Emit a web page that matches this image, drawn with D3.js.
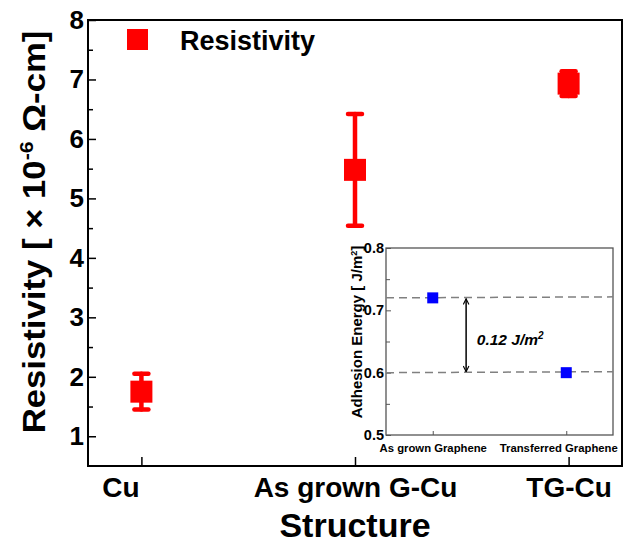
<!DOCTYPE html>
<html lang="en">
<head>
  <meta charset="UTF-8">
  <title>Resistivity vs Structure</title>
  <script src="https://d3js.org/d3.v7.min.js"></script>
  <style>
    body { margin: 0; background: #fff; }
    svg text { font-family: "Liberation Sans", Arial, sans-serif; font-weight: bold; }
  </style>
</head>
<body>
  <svg width="625" height="544"></svg>

  <script>
    // main chart data
    const categories = ["Cu", "As grown G-Cu", "TG-Cu"];
    const resistivity = [1.75, 5.48, 6.93];
    const resistivityErr = [0.30, 0.94, 0.21];
    const yTicks = [1, 2, 3, 4, 5, 6, 7, 8];

    // inset data
    const insetCategories = ["As grown Graphene", "Transferred Graphene"];
    const adhesion = [0.72, 0.60];
    const insetTicks = [0.5, 0.6, 0.7, 0.8];

    const svg = d3.select("svg");

    // ---------- main plot ----------
    const m = { left: 88, right: 622, top: 20, bottom: 466 };

    const x = d3.scaleLinear().domain([0.75, 3.25]).range([m.left, m.right]);
    const y = d3.scaleLinear().domain([0.5, 8]).range([m.bottom, m.top]);

    // minor y ticks
    svg.append("g")
      .attr("transform", "translate(" + m.left + ",0)")
      .call(d3.axisLeft(y).tickValues(y.ticks(15).filter(v => v % 1 !== 0 && v > 0.5)).tickSize(-5).tickFormat(""))
      .call(g => g.select(".domain").remove())
      .selectAll("line").attr("stroke", "#000").attr("stroke-width", 1.5);

    const yAxis = svg.append("g")
      .attr("transform", "translate(" + m.left + ",0)")
      .call(d3.axisLeft(y).tickValues(yTicks).tickSize(-8).tickPadding(4).tickFormat(d3.format("d")));
    yAxis.select(".domain").remove();
    yAxis.selectAll("line").attr("stroke", "#000").attr("stroke-width", 1.5);
    yAxis.selectAll("text").attr("font-size", 26).attr("fill", "#000");

    const xAxis = svg.append("g")
      .attr("transform", "translate(0," + m.bottom + ")")
      .call(d3.axisBottom(x).tickValues([1, 2, 3]).tickSize(-9).tickPadding(11)
        .tickFormat(i => categories[i - 1]));
    xAxis.select(".domain").remove();
    xAxis.selectAll("line").attr("stroke", "#000").attr("stroke-width", 1.5);
    xAxis.selectAll("text").attr("font-size", 28).attr("fill", "#000")
      .attr("dx", (d, i) => i === 0 ? -21 : 0);

    // frame
    svg.append("rect")
      .attr("x", m.left).attr("y", m.top)
      .attr("width", m.right - m.left).attr("height", m.bottom - m.top)
      .attr("fill", "none").attr("stroke", "#000").attr("stroke-width", 2);

    // error bars
    const pts = categories.map((c, i) => ({ c: c, i: i + 1, v: resistivity[i], e: resistivityErr[i] }));
    const eb = svg.append("g").attr("stroke", "#ff0000").attr("stroke-width", 4.5).attr("stroke-linecap", "round");
    eb.selectAll(".stem").data(pts).enter().append("line")
      .attr("x1", d => x(d.i)).attr("x2", d => x(d.i))
      .attr("y1", d => y(d.v - d.e)).attr("y2", d => y(d.v + d.e));
    eb.selectAll(".capTop").data(pts).enter().append("line")
      .attr("x1", d => x(d.i) - 7).attr("x2", d => x(d.i) + 7)
      .attr("y1", d => y(d.v + d.e)).attr("y2", d => y(d.v + d.e));
    eb.selectAll(".capBot").data(pts).enter().append("line")
      .attr("x1", d => x(d.i) - 7).attr("x2", d => x(d.i) + 7)
      .attr("y1", d => y(d.v - d.e)).attr("y2", d => y(d.v - d.e));

    const sq = 22;
    svg.selectAll(".pt").data(pts).enter().append("rect")
      .attr("x", d => x(d.i) - sq / 2).attr("y", d => y(d.v) - sq / 2)
      .attr("width", sq).attr("height", sq).attr("fill", "#ff0000");

    // legend
    svg.append("rect").attr("x", 127).attr("y", 29).attr("width", 21).attr("height", 21).attr("fill", "#ff0000");
    svg.append("text").attr("x", 180).attr("y", 50).attr("font-size", 27).text("Resistivity");

    // axis titles
    const yl = svg.append("text")
      .attr("transform", "translate(45,232) rotate(-90) scale(1.12,1)")
      .attr("text-anchor", "middle").attr("font-size", 31);
    yl.append("tspan").text("Resistivity [ \u00d7 10");
    yl.append("tspan").attr("dy", -12).attr("font-size", 19).text("-6");
    yl.append("tspan").attr("dy", 12).text(" \u03a9-cm]");

    svg.append("text").attr("x", (m.left + m.right) / 2).attr("y", 537)
      .attr("text-anchor", "middle").attr("font-size", 34).text("Structure");

    // ---------- inset ----------
    const n = { left: 386, right: 613, top: 248, bottom: 435 };
    const ix = d3.scaleLinear().domain([0.65, 2.35]).range([n.left, n.right]);
    const iy = d3.scaleLinear().domain([0.5, 0.8]).range([n.bottom, n.top]);

    svg.append("rect")
      .attr("x", n.left).attr("y", n.top)
      .attr("width", n.right - n.left).attr("height", n.bottom - n.top)
      .attr("fill", "#fff");

    svg.append("g")
      .attr("transform", "translate(" + n.left + ",0)")
      .call(d3.axisLeft(iy).tickValues([0.55, 0.65, 0.75]).tickSize(-4).tickFormat(""))
      .call(g => g.select(".domain").remove())
      .selectAll("line").attr("stroke", "#555");

    const iyAxis = svg.append("g")
      .attr("transform", "translate(" + n.left + ",0)")
      .call(d3.axisLeft(iy).tickValues(insetTicks).tickSize(-5).tickPadding(2).tickFormat(d3.format(".1f")));
    iyAxis.select(".domain").remove();
    iyAxis.selectAll("line").attr("stroke", "#555");
    iyAxis.selectAll("text").attr("font-size", 14.5).attr("fill", "#000");

    const ixAxis = svg.append("g")
      .attr("transform", "translate(0," + n.bottom + ")")
      .call(d3.axisBottom(ix).tickValues([1, 2]).tickSize(-4).tickPadding(9)
        .tickFormat(i => insetCategories[i - 1]));
    ixAxis.select(".domain").remove();
    ixAxis.selectAll("line").attr("stroke", "#555");
    ixAxis.selectAll("text").attr("font-size", 11.3).attr("fill", "#000")
      .attr("dx", (d, i) => i === 1 ? -8 : 0);

    svg.append("rect")
      .attr("x", n.left).attr("y", n.top)
      .attr("width", n.right - n.left).attr("height", n.bottom - n.top)
      .attr("fill", "none").attr("stroke", "#555").attr("stroke-width", 1.3);

    // dashed reference levels
    svg.selectAll(".ref").data(adhesion).enter().append("line")
      .attr("x1", n.left).attr("x2", n.right)
      .attr("y1", d => iy(d)).attr("y2", d => iy(d) - 1)
      .attr("stroke", "#808080").attr("stroke-width", 1.5).attr("stroke-dasharray", "8,5");

    const isq = 11;
    svg.selectAll(".ipt").data(adhesion).enter().append("rect")
      .attr("x", (d, i) => ix(i + 1) - isq / 2).attr("y", d => iy(d) - isq / 2)
      .attr("width", isq).attr("height", isq).attr("fill", "#0000ff");

    // double arrow
    const defs = svg.append("defs");
    defs.append("marker").attr("id", "arr")
      .attr("viewBox", "0 0 10 10").attr("refX", 9).attr("refY", 5)
      .attr("markerWidth", 7).attr("markerHeight", 7).attr("markerUnits", "userSpaceOnUse")
      .attr("orient", "auto-start-reverse")
      .append("path").attr("d", "M1,1 L9,5 L1,9").attr("fill", "none").attr("stroke", "#000").attr("stroke-width", 1.6);

    const ax = ix(1.25);
    svg.append("line")
      .attr("x1", ax).attr("x2", ax)
      .attr("y1", iy(adhesion[0]) + 1).attr("y2", iy(adhesion[1]) - 1)
      .attr("stroke", "#000").attr("stroke-width", 1.5)
      .attr("marker-start", "url(#arr)").attr("marker-end", "url(#arr)");

    const diff = svg.append("text")
      .attr("x", ix(1.33)).attr("y", iy((adhesion[0] + adhesion[1]) / 2))
      .attr("dy", "0.6em").attr("font-size", 15.5).attr("font-style", "italic");
    diff.append("tspan").text("0.12 J/m");
    diff.append("tspan").attr("dy", -6).attr("font-size", 10).text("2");

    const iyl = svg.append("text")
      .attr("transform", "translate(362,332) rotate(-90)")
      .attr("text-anchor", "middle").attr("font-size", 15);
    iyl.append("tspan").text("Adhesion Energy [ J/m");
    iyl.append("tspan").attr("dy", -5).attr("font-size", 9).text("2");
    iyl.append("tspan").attr("dy", 5).text("]");
  </script>
</body>
</html>
